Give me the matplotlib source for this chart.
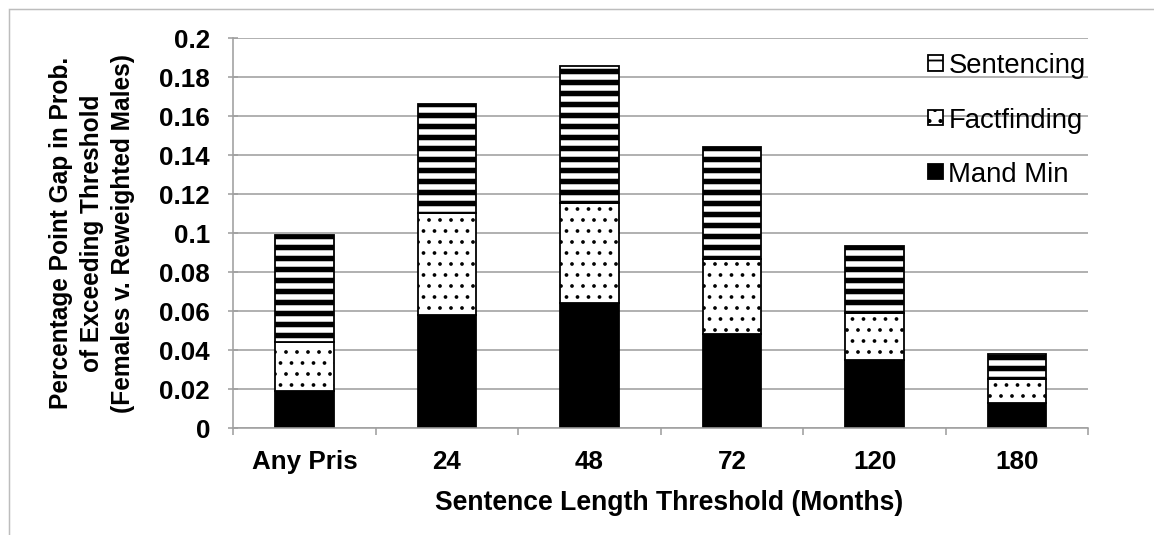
import matplotlib
matplotlib.use("Agg")
from matplotlib import pyplot as plt
from matplotlib.patches import Rectangle
import numpy as np

categories = ['Any Pris', '24', '48', '72', '120', '180']
mand_min = [0.019, 0.058, 0.064, 0.048, 0.035, 0.013]
factfinding = [0.025, 0.052, 0.051, 0.0385, 0.024, 0.012]
sentencing = [0.0546, 0.056, 0.0703, 0.0574, 0.034, 0.0127]
yticks = [0, 0.02, 0.04, 0.06, 0.08, 0.1, 0.12, 0.14, 0.16, 0.18, 0.2]

DPI = 132
px = 72.0 / DPI  # points per pixel

plt.rcParams['font.family'] = ['Liberation Sans', 'DejaVu Sans']

fig = plt.figure(figsize=(1154.5 / DPI, 535.5 / DPI), dpi=DPI)
ax = fig.add_axes([233 / 1154, 1 - 428 / 535, 855 / 1154, 390 / 535])

x = np.arange(len(categories))
w = 0.41
bottom2 = np.array(mand_min) + np.array(factfinding)

with plt.rc_context({'hatch.linewidth': 1.0 * px}):
    b1 = ax.bar(x, mand_min, w, color='black', edgecolor='black',
                linewidth=1.8 * px, label='Mand Min')
with plt.rc_context({'hatch.linewidth': 1.5 * px}):
    b2 = ax.bar(x, factfinding, w, bottom=mand_min, color='white', edgecolor='black',
                hatch='..', linewidth=1.8 * px, label='Factfinding')
with plt.rc_context({'hatch.linewidth': 5.5 * px}):
    b3 = ax.bar(x, sentencing, w, bottom=bottom2, color='white', edgecolor='black',
                hatch='--', linewidth=1.8 * px, label='Sentencing')

ax.set_xlim(-0.5, len(categories) - 0.5)
ax.set_ylim(0, 0.2)
ax.set_yticks(yticks)
ax.set_yticklabels([f"{v:g}" for v in yticks])
ax.set_xticks(x)
ax.set_xticklabels(categories)
ax.set_xticks(np.arange(-0.5, len(categories)), minor=True)

grey = '#a0a0a0'
ax.set_axisbelow(True)
ax.yaxis.grid(True, color=grey, linewidth=1.6 * px)
for s in ['top', 'right']:
    ax.spines[s].set_visible(False)
for s in ['left', 'bottom']:
    ax.spines[s].set_color(grey)
    ax.spines[s].set_linewidth(1.6 * px)

fs = 26 * px
ax.tick_params(axis='y', direction='inout', length=10 * px, width=1.6 * px,
               color=grey, pad=18 * px, labelsize=fs)
ax.tick_params(axis='x', which='major', length=0, pad=22 * px, labelsize=fs)
ax.tick_params(axis='x', which='minor', direction='out', length=7 * px,
               width=1.6 * px, color=grey)
for t in ax.get_xticklabels() + ax.get_yticklabels():
    t.set_fontweight('bold')

ax.set_xlabel('Sentence Length Threshold (Months)', fontsize=26.5 * px, fontweight='bold')
ax.xaxis.label.set_va('center')
ax.xaxis.set_label_coords(0.51, -0.192)
ax.set_ylabel('Percentage Point Gap in Prob.\nof Exceeding Threshold\n(Females v. Reweighted Males)',
              fontsize=24.5 * px, fontweight='bold', linespacing=1.35)
ax.yaxis.label.set_va('center')
ax.yaxis.set_label_coords((92 - 233) / 855, 0.5)

ax.legend([b3, b2, b1], ['Sentencing', 'Factfinding', 'Mand Min'],
          loc='upper left', bbox_to_anchor=((908 - 233) / 855, 1 + (38 - 34) / 390),
          frameon=False, fontsize=27.5 * px, handlelength=0.55, handleheight=0.48,
          handletextpad=0.2, labelspacing=1.03, borderpad=0.2)

fig.patches.append(Rectangle((9 / 1154, -0.05), 1.2, 1.05 - 9 / 535,
                             transform=fig.transFigure, fill=False,
                             edgecolor='#bdbdbd', linewidth=1.5 * px))

fig.savefig('out.png', dpi=DPI, facecolor='white')
